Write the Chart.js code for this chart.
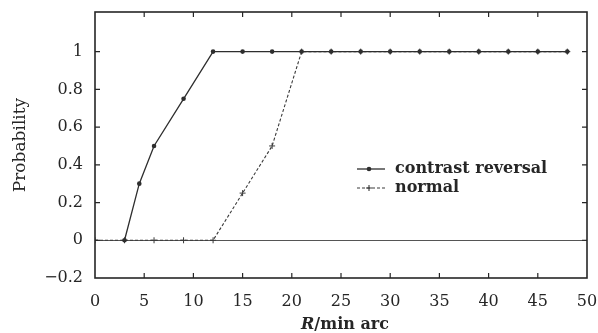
<!DOCTYPE html>
<html>
<head>
<meta charset="utf-8">
<script src="https://cdn.jsdelivr.net/npm/chart.js@4"></script>
<style>
  html, body { margin: 0; padding: 0; background: #fff; }
  #wrap { width: 598px; height: 333px; }
</style>
</head>
<body>
<div id="wrap"><canvas id="c" width="598" height="333"></canvas></div>
<script>
// ---- data ----
const contrastR = [3, 4.5, 6, 9, 12, 15, 18, 21, 24, 27, 30, 33, 36, 39, 42, 45, 48];
const contrastP = [0, 0.3, 0.5, 0.75, 1, 1, 1, 1, 1, 1, 1, 1, 1, 1, 1, 1, 1];
const normalR   = [0, 3, 6, 9, 12, 15, 18, 21, 24, 27, 30, 33, 36, 39, 42, 45, 48];
const normalP   = [0, 0, 0, 0, 0, 0.25, 0.5, 1, 1, 1, 1, 1, 1, 1, 1, 1, 1];
const seriesLabels = ['contrast reversal', 'normal'];
const xTicks = [0, 5, 10, 15, 20, 25, 30, 35, 40, 45, 50];
const yTicks = [-0.2, 0, 0.2, 0.4, 0.6, 0.8, 1];

const FONT = '"DejaVu Serif", "Liberation Serif", serif';
const INK = '#262626';

const toPts = (xs, ys) => xs.map((x, i) => ({ x: x, y: ys[i] }));

const framePlugin = {
  id: 'frame',
  afterDraw(chart) {
    const { ctx, chartArea: a, scales } = chart;
    ctx.save();
    ctx.strokeStyle = INK;
    ctx.lineWidth = 1.6;
    ctx.strokeRect(a.left, a.top, a.right - a.left, a.bottom - a.top);
    ctx.lineWidth = 1.2;
    const t = 5;
    ctx.beginPath();
    xTicks.forEach(v => {
      if (v <= 0 || v >= 50) return;
      const px = scales.x.getPixelForValue(v);
      ctx.moveTo(px, a.bottom); ctx.lineTo(px, a.bottom - t);
      ctx.moveTo(px, a.top); ctx.lineTo(px, a.top + t);
    });
    yTicks.forEach(v => {
      const py = scales.y.getPixelForValue(v);
      if (py >= a.bottom - 0.5 || py <= a.top + 0.5) return;
      ctx.moveTo(a.left, py); ctx.lineTo(a.left + t, py);
      ctx.moveTo(a.right, py); ctx.lineTo(a.right - t, py);
    });
    ctx.stroke();

    // x axis title with italic R
    ctx.fillStyle = INK;
    ctx.textBaseline = 'alphabetic';
    const cx = (a.left + a.right) / 2 + 4;
    const y = 329;
    ctx.font = 'italic bold 16px ' + FONT;
    const w1 = ctx.measureText('R').width;
    ctx.font = 'bold 16px ' + FONT;
    const w2 = ctx.measureText('/min arc').width;
    let x0 = cx - (w1 + w2) / 2;
    ctx.textAlign = 'left';
    ctx.font = 'italic bold 16px ' + FONT;
    ctx.fillText('R', x0, y);
    ctx.font = 'bold 16px ' + FONT;
    ctx.fillText('/min arc', x0 + w1, y);

    // legend
    const lx = 357, lx2 = 385, tx = 395;
    const rows = [169, 188];
    chart.data.datasets.forEach((ds, i) => {
      const ly = rows[i];
      ctx.strokeStyle = ds.borderColor;
      ctx.lineWidth = ds.borderWidth;
      ctx.setLineDash(ds.borderDash || []);
      ctx.beginPath(); ctx.moveTo(lx, ly); ctx.lineTo(lx2, ly); ctx.stroke();
      ctx.setLineDash([]);
      const mx = (lx + lx2) / 2 - 2;
      if (ds.pointStyle === 'cross') {
        ctx.beginPath();
        ctx.moveTo(mx - 3, ly); ctx.lineTo(mx + 3, ly);
        ctx.moveTo(mx, ly - 3); ctx.lineTo(mx, ly + 3);
        ctx.stroke();
      } else {
        ctx.fillStyle = ds.borderColor;
        ctx.beginPath(); ctx.arc(mx, ly, 2.3, 0, Math.PI * 2); ctx.fill();
      }
      ctx.fillStyle = INK;
      ctx.font = 'bold 16px ' + FONT;
      ctx.textBaseline = 'middle';
      ctx.fillText(ds.label, tx, ly);
    });
    ctx.restore();
  }
};

new Chart(document.getElementById('c'), {
  type: 'scatter',
  data: {
    datasets: [
      {
        label: seriesLabels[0],
        data: toPts(contrastR, contrastP),
        showLine: true,
        borderColor: '#2e2e2e',
        backgroundColor: '#2e2e2e',
        borderWidth: 1.3,
        pointStyle: 'circle',
        pointRadius: 2.3,
        pointBorderWidth: 0,
        tension: 0
      },
      {
        label: seriesLabels[1],
        data: toPts(normalR, normalP),
        showLine: true,
        borderColor: '#3a3a3a',
        backgroundColor: '#3a3a3a',
        borderWidth: 1.1,
        borderDash: [3, 2],
        pointStyle: 'cross',
        pointRadius: 3,
        pointBorderWidth: 1,
        tension: 0
      }
    ]
  },
  options: {
    responsive: false,
    animation: false,
    events: [],
    layout: { padding: { top: 12, right: 11, left: 0, bottom: 0 } },
    plugins: { legend: { display: false }, tooltip: { enabled: false } },
    scales: {
      x: {
        type: 'linear',
        min: 0, max: 50,
        afterBuildTicks: s => { s.ticks = xTicks.map(v => ({ value: v })); },
        afterFit: s => { s.height = 55; s.paddingLeft = 0; s.paddingRight = 0; },
        grid: { display: false, drawTicks: false },
        border: { display: false },
        ticks: { color: INK, font: { family: FONT, size: 16 }, padding: 14, maxRotation: 0 }
      },
      y: {
        type: 'linear',
        min: -0.2, max: 1.21,
        afterBuildTicks: s => { s.ticks = yTicks.map(v => ({ value: v })); },
        afterFit: s => { s.width = 95; s.paddingTop = 0; s.paddingBottom = 0; },
        grid: {
          drawTicks: false,
          color: c => (c.tick && Math.abs(c.tick.value) < 1e-9) ? '#555' : 'rgba(0,0,0,0)',
          lineWidth: 1
        },
        border: { display: false },
        ticks: {
          color: INK,
          font: { family: FONT, size: 16 },
          padding: 12,
          callback: v => {
            const r = Math.round(v * 10) / 10;
            return r < 0 ? '\u2212' + Math.abs(r) : String(r);
          }
        },
        title: { display: true, text: 'Probability', color: INK, font: { family: FONT, size: 17 }, padding: { top: 10, bottom: 0 } }
      }
    }
  },
  plugins: [framePlugin]
});
</script>
</body>
</html>
